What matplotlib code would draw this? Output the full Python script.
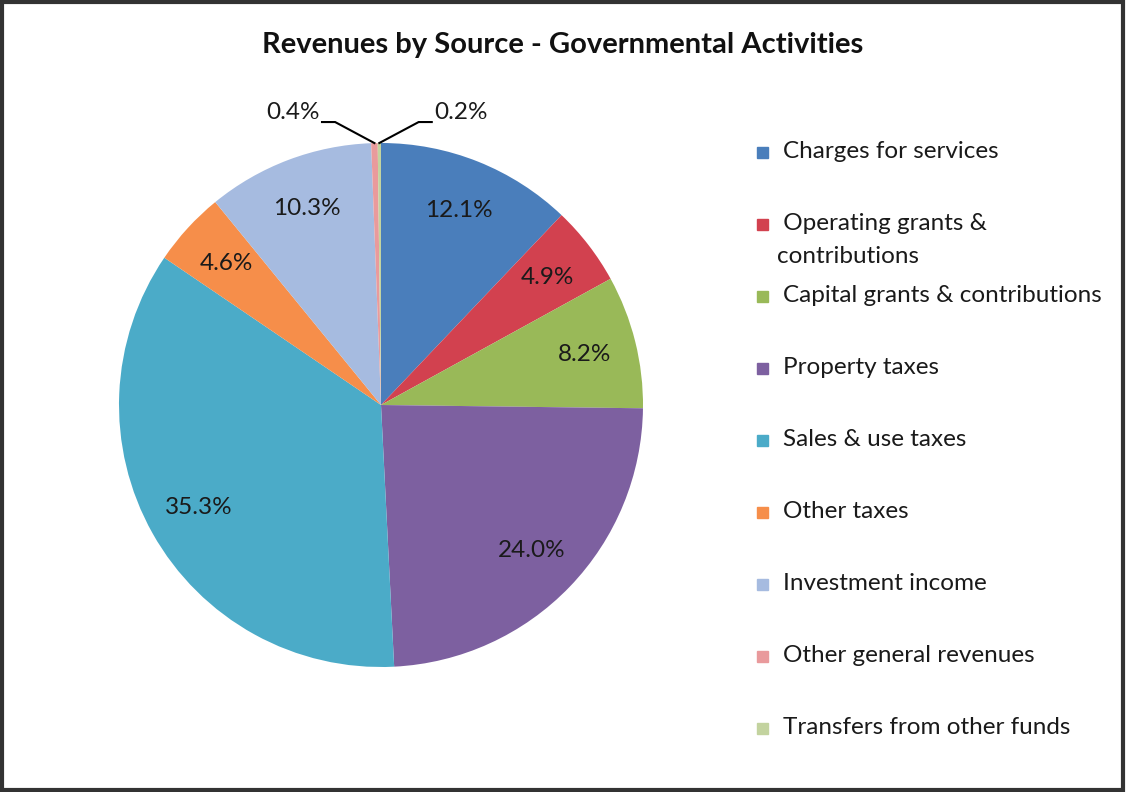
import numpy as np
import matplotlib
matplotlib.use('Agg')
import matplotlib.pyplot as plt
from matplotlib.patches import Rectangle

plt.rcParams['font.family'] = ['Lato', 'DejaVu Sans']

title = 'Revenues by Source - Governmental Activities'
sources = ['Charges for services', ' Operating grants &\ncontributions',
           'Capital grants & contributions', 'Property taxes',
           'Sales & use taxes', 'Other taxes', 'Investment income',
           'Other general revenues', 'Transfers from other funds']
shares = [12.1, 4.9, 8.2, 24.0, 35.3, 4.6, 10.3, 0.4, 0.2]
colors = ['#4a7ebb', '#d2414f', '#99b958', '#7d60a0', '#4babc8',
          '#f68e4a', '#a6bbe0', '#e99a9c', '#c3d39f']
text_x = [783, 777, 777, 783, 783, 783, 783, 783, 783]

fig = plt.figure(figsize=(11.26, 7.92), dpi=100)
W, H = 1126, 792

# pie centred at (381, 405) px with radius 262 px
cx, cy, r = 381, 405, 262
ax = fig.add_axes([(cx - r) / W, 1 - (cy + r) / H, 2 * r / W, 2 * r / H])

def pct(v):
    return '' if v < 1 else f'{v:.1f}%'

wedges, texts, autotexts = ax.pie(
    shares, colors=colors, startangle=90, counterclock=False,
    autopct=pct, pctdistance=0.8,
    textprops=dict(fontsize=17.5, color='#1a1a1a'))
ax.set_xlim(-1, 1)
ax.set_ylim(-1, 1)
ax.set_aspect('equal')
ax.axis('off')

# leader lines for the two thin slices at the top
for w, v, side in [(wedges[7], shares[7], -1), (wedges[8], shares[8], 1)]:
    ang = np.deg2rad((w.theta1 + w.theta2) / 2)
    x0, y0 = np.cos(ang), np.sin(ang)
    xk = x0 + side * 0.15
    yk = 1.08
    xe = xk + side * 0.05
    ax.plot([x0, xk, xe], [y0, yk, yk], color='black', lw=1.5,
            clip_on=False, solid_joinstyle='miter')
    ax.text(xe + side * 0.01, yk + 0.035, f'{v:.1f}%', fontsize=17.5,
            color='#1a1a1a', ha='left' if side > 0 else 'right', va='center')

fig.text(0.5, 1 - 45 / H, title, ha='center', va='center',
         fontsize=21, fontweight='bold', color='#111111')

# legend on the right
for i, (lab, c, tx) in enumerate(zip(sources, colors, text_x)):
    y = 152 + i * 72
    fig.patches.append(Rectangle((757 / W, 1 - (y + 6) / H), 11 / W, 11 / H,
                                 transform=fig.transFigure, color=c))
    lines = lab.split('\n')
    for j, line in enumerate(lines):
        fig.text((tx if j else 783 - 6 * line.startswith(' ')) / W,
                 1 - (y + 32 * j) / H, line, ha='left', va='center',
                 fontsize=17.5, color='#1a1a1a')

# outer frame
fig.patches.append(Rectangle((0.002, 0.003), 0.995, 0.994, transform=fig.transFigure,
                             fill=False, edgecolor='#333333', lw=3))

fig.savefig('out.png', dpi=100)
